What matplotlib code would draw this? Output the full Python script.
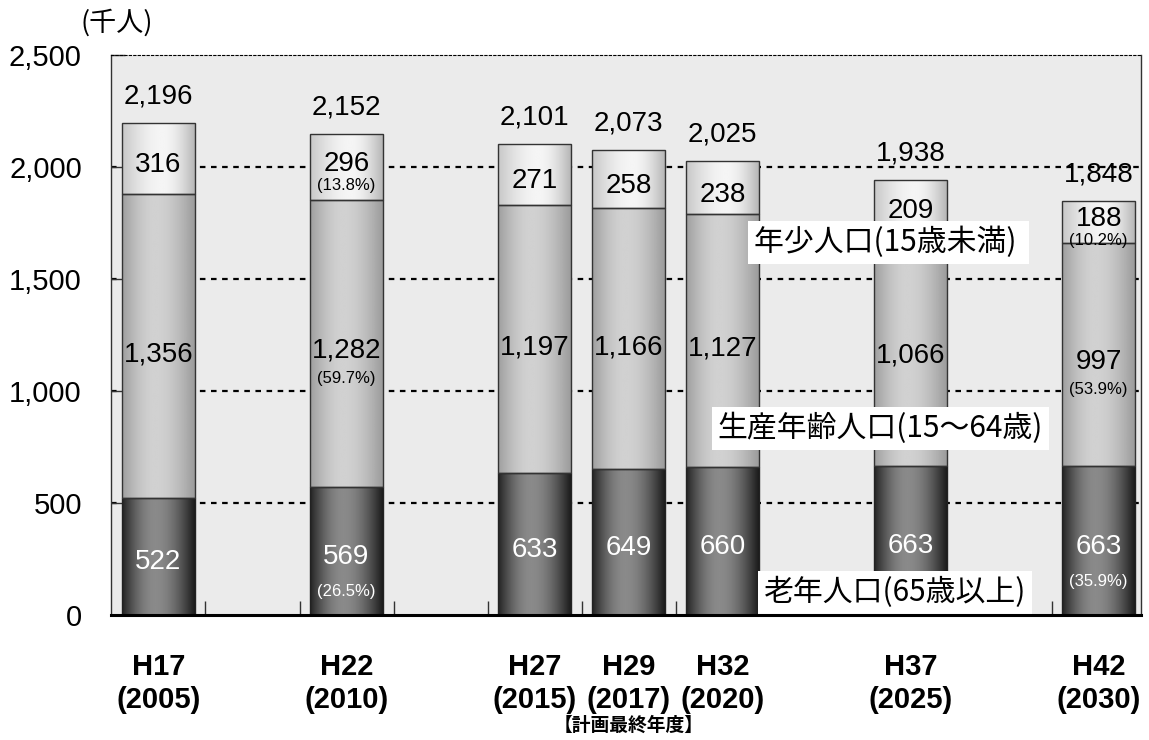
import numpy as np
import matplotlib
matplotlib.use("Agg")
import matplotlib.pyplot as plt
from matplotlib import font_manager
from matplotlib.ticker import FixedLocator

# ---------------- data ----------------
categories = ["H17\n(2005)", "", "H22\n(2010)", "", "H27\n(2015)", "H29\n(2017)",
              "H32\n(2020)", "", "H37\n(2025)", "", "H42\n(2030)"]
elderly = [522, 569, 633, 649, 660, 663, 663]          # 老年人口(65歳以上)
working = [1356, 1282, 1197, 1166, 1127, 1066, 997]    # 生産年齢人口(15~64歳)
young = [316, 296, 271, 258, 238, 209, 188]            # 年少人口(15歳未満)
totals = [2196, 2152, 2101, 2073, 2025, 1938, 1848]
pct_young = {1: "13.8%", 6: "10.2%"}
pct_working = {1: "59.7%", 6: "53.9%"}
pct_elderly = {1: "26.5%", 6: "35.9%"}
yticks = [0, 500, 1000, 1500, 2000, 2500]

# ---------------- fonts ----------------
names = {f.name for f in font_manager.fontManager.ttflist}
NUM = "Liberation Sans" if "Liberation Sans" in names else "DejaVu Sans"
NARROW = "Liberation Sans Narrow" if "Liberation Sans Narrow" in names else NUM
CJK = ["Noto Sans CJK JP", "DejaVu Sans"]

fig = plt.figure(figsize=(11.49, 7.40), dpi=100)
ax = fig.add_axes([111 / 1149, 1 - 614.5 / 740, (1141 - 111) / 1149, (614.5 - 54.5) / 740])
ax.set_facecolor("#ebebeb")

xs = [i for i, c in enumerate(categories) if c]
labels = [c for c in categories if c]
width = 0.777


def shade(edge_l, center, edge_r, peak):
    t = np.linspace(0, 1, 256)
    left = edge_l + (center - edge_l) * np.sin(np.clip(t / peak, 0, 1) * np.pi / 2)
    right = edge_r + (center - edge_r) * np.cos(np.clip((t - peak) / (1 - peak), 0, 1) * np.pi / 2)
    return np.where(t < peak, left, right)


profiles = {
    "young": shade(0.78, 0.96, 0.70, 0.55),
    "working": shade(0.62, 0.82, 0.60, 0.45),
    "elderly": shade(0.14, 0.54, 0.09, 0.45),
}


def fill_gradient(container, prof):
    for rect in container:
        x0, y0 = rect.get_x(), rect.get_y()
        w, h = rect.get_width(), rect.get_height()
        img = np.tile(prof, (2, 1))
        im = ax.imshow(img, cmap="gray", vmin=0, vmax=1, extent=[x0, x0 + w, y0, y0 + h],
                       aspect="auto", interpolation="bilinear", origin="lower", zorder=2)
        im.set_clip_path(rect)


bottoms2 = [e + w for e, w in zip(elderly, working)]
b1 = ax.bar(xs, elderly, width, facecolor="none", edgecolor="#222222", linewidth=1.0, zorder=3)
b2 = ax.bar(xs, working, width, bottom=elderly, facecolor="none", edgecolor="#333333", linewidth=1.0, zorder=3)
b3 = ax.bar(xs, young, width, bottom=bottoms2, facecolor="none", edgecolor="#333333", linewidth=1.0, zorder=3)
fill_gradient(b1, profiles["elderly"])
fill_gradient(b2, profiles["working"])
fill_gradient(b3, profiles["young"])


def lab(txt, x, y, dy, size=20, color="black", z=5):
    ax.annotate(txt, (x, y), xytext=(0, dy), textcoords="offset points", ha="center",
                va="center", fontsize=size, family=NUM, color=color, zorder=z)


# ---------------- labels ----------------
PS = 12
for i, x in enumerate(xs):
    e, w_, y_ = elderly[i], working[i], young[i]
    lab(f"{totals[i]:,}", x, e + w_ + y_, 19, z=1.2)
    yc = e + w_ + y_ / 2
    if i in pct_young:
        lab(f"{y_:,}", x, yc, 2.2)
        lab(f"({pct_young[i]})", x, yc, -13.3, size=PS)
    else:
        lab(f"{y_:,}", x, yc, -5)
    wc = e + w_ / 2
    if i in pct_working:
        lab(f"{w_:,}", x, wc, -5.4)
        lab(f"({pct_working[i]})", x, wc, -25.2, size=PS)
    else:
        lab(f"{w_:,}", x, wc, -6.1)
    ec = e / 2
    if i in pct_elderly:
        lab(f"{e:,}", x, ec, -4.7, color="white")
        lab(f"({pct_elderly[i]})", x, ec, -29.5, size=PS, color="white")
    else:
        lab(f"{e:,}", x, ec, -4.3, color="white")

# series labels with white boxes
box = dict(boxstyle="square,pad=0.2", facecolor="white", edgecolor="none")
ax.text(6.33, 1660, "年少人口(15歳未満) ", fontsize=21.5, family=CJK, ha="left", va="center",
        bbox=box, zorder=6)
ax.text(5.95, 832, "生産年齢人口(15～64歳)", fontsize=21.5, family=CJK, ha="left", va="center",
        bbox=box, zorder=6)
ax.text(6.44, 97, "老年人口(65歳以上)", fontsize=21.5, family=CJK, ha="left", va="center",
        bbox=box, zorder=6)

# ---------------- axes ----------------
ax.set_xlim(-0.505, 10.45)
ax.set_ylim(0, 2500)
ax.set_yticks(yticks)
ax.set_yticklabels([f"{v:,}" for v in yticks], fontsize=21, family=NUM)
ax.set_xticks(xs)
ax.set_xticklabels(labels, fontsize=21, family=NARROW, fontweight="bold", linespacing=1.2)
ax.xaxis.set_minor_locator(FixedLocator(np.arange(0.5, 10.0, 1.0)))
ax.tick_params(axis="x", which="major", length=0, pad=28)
ax.tick_params(axis="x", which="minor", direction="in", length=10, width=1, color="#333333")
ax.tick_params(axis="y", which="major", direction="in", length=10, width=1, pad=21, color="#333333")

for v in yticks[1:-1]:
    ax.axhline(v, color="black", linestyle=(0, (2.5, 2.5)), linewidth=1.6, zorder=1.5)

ax.spines["top"].set_linestyle((0, (2, 2)))
ax.spines["top"].set_linewidth(0.8)
ax.spines["left"].set_linewidth(1.0)
ax.spines["left"].set_color("#333333")
ax.spines["right"].set_linewidth(1.0)
ax.spines["right"].set_color("#333333")
ax.spines["bottom"].set_linewidth(2.2)
ax.spines["bottom"].set_zorder(7)

fig.text(117 / 1149, 1 - 23 / 740, "(千人)", fontsize=19.5, family=CJK, ha="center", va="center")
ax.annotate("【計画最終年度】", (xs[3], 0), xytext=(0, -80), textcoords="offset points",
            ha="center", va="center", fontsize=13.5, fontweight="bold", family=CJK,
            annotation_clip=False)

fig.savefig("out.png", dpi=100)
